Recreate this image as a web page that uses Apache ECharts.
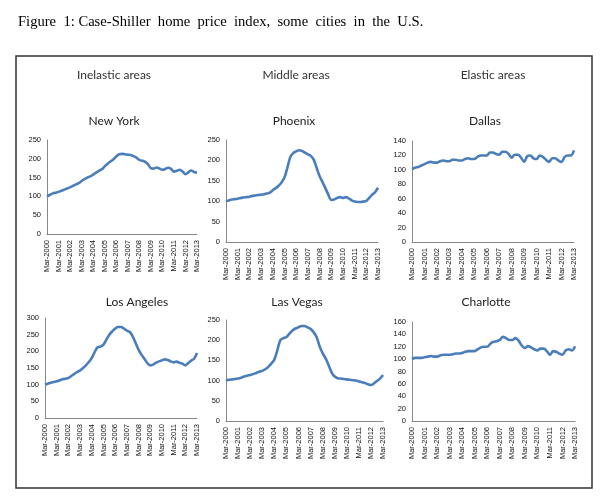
<!DOCTYPE html>
<html>
<head>
<meta charset="utf-8">
<script src="https://cdn.jsdelivr.net/npm/echarts@6/dist/echarts.min.js"></script>
<style>
html,body{margin:0;padding:0;background:#fff;}
#chart{width:608px;height:502px;}
</style>
</head>
<body>
<div id="chart"></div>
<script>
// Quarterly categories, Mar-2000 .. Mar-2013
const categories = [
 'Mar-2000','Jun-2000','Sep-2000','Dec-2000',
 'Mar-2001','Jun-2001','Sep-2001','Dec-2001',
 'Mar-2002','Jun-2002','Sep-2002','Dec-2002',
 'Mar-2003','Jun-2003','Sep-2003','Dec-2003',
 'Mar-2004','Jun-2004','Sep-2004','Dec-2004',
 'Mar-2005','Jun-2005','Sep-2005','Dec-2005',
 'Mar-2006','Jun-2006','Sep-2006','Dec-2006',
 'Mar-2007','Jun-2007','Sep-2007','Dec-2007',
 'Mar-2008','Jun-2008','Sep-2008','Dec-2008',
 'Mar-2009','Jun-2009','Sep-2009','Dec-2009',
 'Mar-2010','Jun-2010','Sep-2010','Dec-2010',
 'Mar-2011','Jun-2011','Sep-2011','Dec-2011',
 'Mar-2012','Jun-2012','Sep-2012','Dec-2012',
 'Mar-2013'
];

const newYork = [
 100,104,108,110, 112,115,118,121, 124,128,132,135, 141,146,150,153,
 158,163,168,172, 180,187,193,198, 206,212,213,212, 211,210,207,203,
 197,195,192,186, 175,174,177,174, 171,173,176,173, 166,168,171,166,
 159,164,169,165, 163
];
const phoenix = [
 100,102,104,105, 106,108,109,110, 111,113,114,115, 116,117,119,121,
 127,132,138,146, 158,182,208,218, 222,225,223,219, 215,211,202,182,
 162,147,132,116, 103,104,108,110, 108,110,107,102, 99,98,98,99,
 101,108,116,122, 133
];
const dallas = [
 101,103,104,106, 108,110,111,110, 110,112,113,112, 112,114,114,113,
 113,115,116,115, 115,118,120,120, 120,124,124,122, 121,125,125,122,
 117,121,121,117, 111,119,120,116, 115,120,118,114, 111,116,116,113,
 111,118,120,120, 127
];
const losAngeles = [
 100,103,106,108, 110,113,116,118, 120,126,132,138, 143,150,158,168,
 180,198,212,214, 220,235,250,260, 268,273,273,268, 262,258,245,225,
 205,190,178,165, 158,160,166,170, 173,176,174,170, 167,169,166,163,
 158,165,172,178, 195
];
const lasVegas = [
 100,102,103,104, 105,107,110,112, 114,116,119,122, 124,128,134,142,
 152,175,200,205, 208,216,224,229, 232,235,235,232, 228,220,208,185,
 168,155,138,120, 110,106,105,104, 103,102,101,100, 98,96,94,91,
 89,93,99,105, 114
];
const charlotte = [
 100,102,102,102, 103,104,105,104, 104,106,107,107, 107,108,109,109,
 110,112,113,113, 113,116,119,120, 120,125,128,129, 131,136,134,131,
 131,134,130,122, 118,121,119,116, 114,117,117,113, 107,113,112,109,
 107,114,116,114, 121
];

const cityNames = ['New York','Phoenix','Dallas','Los Angeles','Las Vegas','Charlotte'];
const groupNames = ['Inelastic areas','Middle areas','Elastic areas'];
const yMax = [250,250,140,300,250,160];
const yStep = [50,50,20,50,50,20];
const captionText = 'Figure  1: Case-Shiller  home  price  index,  some  cities  in  the  U.S.';

const seriesData = [newYork, phoenix, dallas, losAngeles, lasVegas, charlotte];

// layout (pixels)
const grids = [
 {left:47, top:140, width:150, height:94},
 {left:226, top:140, width:152, height:102},
 {left:412, top:141, width:162, height:101},
 {left:45, top:318, width:152, height:100},
 {left:226, top:320, width:157, height:101},
 {left:412, top:322, width:163, height:99}
];
const cityTitlePos = [[114,121],[294,121],[485,121],[137,302],[297,302],[486,302]];
const groupTitlePos = [[114,75],[296,75],[493,75]];

const labelFont = 'Liberation Sans';
const titleFont = 'Lato';

const xAxes = [], yAxes = [], series = [];
for (let i = 0; i < 6; i++) {
  xAxes.push({
    gridIndex: i, type: 'category', data: categories, boundaryGap: false,
    axisLine: {lineStyle: {color: '#888', width: 1}},
    axisTick: {show: false},
    axisLabel: {interval: 3, rotate: 90, fontSize: 7.5, color: '#111', fontFamily: labelFont, margin: 6}
  });
  yAxes.push({
    gridIndex: i, type: 'value', min: 0, max: yMax[i], interval: yStep[i],
    axisLine: {show: true, lineStyle: {color: '#888', width: 1}},
    axisTick: {show: false},
    splitLine: {show: false},
    axisLabel: {fontSize: 7.5, color: '#111', fontFamily: labelFont, margin: 6}
  });
  series.push({
    type: 'line', xAxisIndex: i, yAxisIndex: i, data: seriesData[i],
    showSymbol: false, smooth: 0.35, animation: false,
    lineStyle: {color: '#4A7EBB', width: 2.6}
  });
}

const graphics = [
  {type: 'rect', shape: {x: 16, y: 56, width: 576, height: 432},
   style: {fill: 'none', stroke: '#333', lineWidth: 1.5}},
  {type: 'text', x: 18, y: 22,
   style: {text: captionText, font: '14.6px "Liberation Serif"', fill: '#000', textVerticalAlign: 'middle'}}
];
for (let i = 0; i < 3; i++) {
  graphics.push({type: 'text', x: groupTitlePos[i][0], y: groupTitlePos[i][1],
    style: {text: groupNames[i], font: '12px ' + titleFont, fill: '#333', textAlign: 'center', textVerticalAlign: 'middle'}});
}
for (let i = 0; i < 6; i++) {
  graphics.push({type: 'text', x: cityTitlePos[i][0], y: cityTitlePos[i][1],
    style: {text: cityNames[i], font: '12px ' + titleFont, fill: '#222', textAlign: 'center', textVerticalAlign: 'middle'}});
}

const chart = echarts.init(document.getElementById('chart'));
chart.setOption({
  animation: false,
  backgroundColor: '#fff',
  grid: grids,
  xAxis: xAxes,
  yAxis: yAxes,
  series: series,
  graphic: graphics
});
</script>
</body>
</html>
